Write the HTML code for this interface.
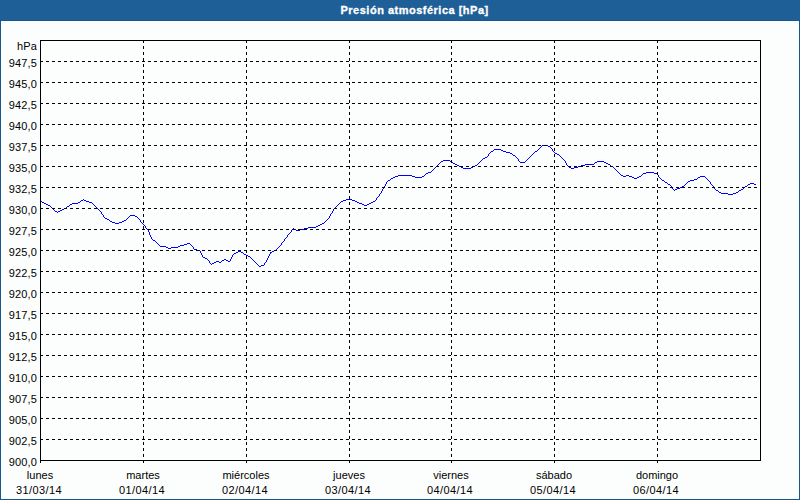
<!DOCTYPE html>
<html><head><meta charset="utf-8">
<style>
html,body{margin:0;padding:0;}
body{width:800px;height:500px;position:relative;overflow:hidden;background:#fcfefd;font-family:"Liberation Sans",sans-serif;font-size:11px;color:#000;}
.frame{position:absolute;left:0;top:0;width:798px;height:499px;border:1px solid #17578f;border-top:none;}
.title{position:absolute;left:0;top:0;width:800px;height:20px;background:#1f5f97;border-bottom:1px solid #17578f;}
.tt{position:absolute;left:340.5px;top:4px;letter-spacing:0.5px;-webkit-text-stroke:0.3px #fff;color:#fff;font-weight:bold;font-size:11px;white-space:nowrap;line-height:13px;}
.yl{position:absolute;left:0;width:37.2px;letter-spacing:0.2px;text-align:right;line-height:13px;white-space:nowrap;}
.dt{letter-spacing:0.4px;}
.xl{position:absolute;width:100px;text-align:center;line-height:13px;white-space:nowrap;}
svg{position:absolute;left:0;top:0;}
</style></head><body>
<div class="frame"></div>
<div class="title"><div class="tt">Presión atmosférica [hPa]</div></div>
<svg width="800" height="500" viewBox="0 0 800 500">
<path d="M542 145h6v1h-6zM541 146h1v1h-1zM548 146h2v1h-2zM540 147h1v1h-1zM550 147h1v1h-1zM539 148h1v1h-1zM551 148h1v1h-1zM494 149h7v1h-7zM538 149h1v1h-1zM552 149h1v1h-1zM493 150h1v1h-1zM501 150h2v1h-2zM537 150h1v1h-1zM552 150h1v1h-1zM491 151h2v1h-2zM503 151h3v1h-3zM535 151h2v1h-2zM553 151h1v1h-1zM490 152h1v1h-1zM506 152h4v1h-4zM534 152h1v1h-1zM554 152h1v1h-1zM489 153h1v1h-1zM510 153h2v1h-2zM533 153h1v1h-1zM555 153h2v1h-2zM488 154h1v1h-1zM512 154h1v1h-1zM532 154h1v1h-1zM557 154h2v1h-2zM488 155h1v1h-1zM513 155h2v1h-2zM531 155h1v1h-1zM559 155h1v1h-1zM487 156h1v1h-1zM515 156h1v1h-1zM530 156h1v1h-1zM560 156h1v1h-1zM485 157h2v1h-2zM516 157h1v1h-1zM529 157h1v1h-1zM561 157h1v1h-1zM483 158h2v1h-2zM517 158h1v1h-1zM528 158h1v1h-1zM562 158h1v1h-1zM482 159h1v1h-1zM518 159h1v1h-1zM527 159h1v1h-1zM563 159h1v1h-1zM443 160h7v1h-7zM481 160h1v1h-1zM518 160h1v1h-1zM526 160h1v1h-1zM564 160h1v1h-1zM441 161h2v1h-2zM450 161h2v1h-2zM480 161h1v1h-1zM519 161h1v1h-1zM525 161h1v1h-1zM565 161h1v1h-1zM597 161h7v1h-7zM440 162h1v1h-1zM452 162h1v1h-1zM479 162h1v1h-1zM520 162h5v1h-5zM565 162h1v1h-1zM595 162h2v1h-2zM604 162h2v1h-2zM439 163h1v1h-1zM453 163h2v1h-2zM478 163h1v1h-1zM566 163h1v1h-1zM594 163h1v1h-1zM606 163h2v1h-2zM438 164h1v1h-1zM455 164h2v1h-2zM477 164h1v1h-1zM566 164h1v1h-1zM585 164h9v1h-9zM608 164h2v1h-2zM437 165h1v1h-1zM457 165h2v1h-2zM475 165h2v1h-2zM567 165h1v1h-1zM581 165h4v1h-4zM610 165h1v1h-1zM436 166h1v1h-1zM459 166h2v1h-2zM473 166h2v1h-2zM568 166h1v1h-1zM578 166h3v1h-3zM611 166h2v1h-2zM435 167h1v1h-1zM461 167h2v1h-2zM471 167h2v1h-2zM569 167h2v1h-2zM574 167h4v1h-4zM613 167h1v1h-1zM434 168h1v1h-1zM463 168h8v1h-8zM571 168h3v1h-3zM614 168h1v1h-1zM433 169h1v1h-1zM615 169h1v1h-1zM432 170h1v1h-1zM616 170h1v1h-1zM431 171h1v1h-1zM617 171h1v1h-1zM428 172h3v1h-3zM618 172h1v1h-1zM646 172h8v1h-8zM426 173h2v1h-2zM619 173h1v1h-1zM643 173h3v1h-3zM654 173h3v1h-3zM425 174h1v1h-1zM620 174h1v1h-1zM642 174h1v1h-1zM657 174h1v1h-1zM398 175h14v1h-14zM424 175h1v1h-1zM621 175h2v1h-2zM626 175h3v1h-3zM641 175h1v1h-1zM658 175h1v1h-1zM395 176h3v1h-3zM412 176h3v1h-3zM422 176h2v1h-2zM623 176h3v1h-3zM629 176h3v1h-3zM639 176h2v1h-2zM658 176h1v1h-1zM700 176h5v1h-5zM393 177h2v1h-2zM415 177h7v1h-7zM632 177h2v1h-2zM637 177h2v1h-2zM659 177h1v1h-1zM698 177h2v1h-2zM705 177h1v1h-1zM391 178h2v1h-2zM634 178h3v1h-3zM660 178h1v1h-1zM697 178h1v1h-1zM706 178h1v1h-1zM390 179h1v1h-1zM661 179h1v1h-1zM694 179h3v1h-3zM707 179h1v1h-1zM388 180h2v1h-2zM662 180h2v1h-2zM690 180h4v1h-4zM708 180h1v1h-1zM387 181h1v1h-1zM664 181h1v1h-1zM688 181h2v1h-2zM709 181h1v1h-1zM386 182h1v1h-1zM665 182h2v1h-2zM687 182h1v1h-1zM710 182h1v1h-1zM386 183h1v1h-1zM667 183h1v1h-1zM686 183h1v1h-1zM710 183h1v1h-1zM750 183h4v1h-4zM385 184h1v1h-1zM668 184h2v1h-2zM685 184h1v1h-1zM711 184h1v1h-1zM748 184h2v1h-2zM754 184h2v1h-2zM385 185h1v1h-1zM670 185h1v1h-1zM684 185h1v1h-1zM712 185h1v1h-1zM747 185h1v1h-1zM384 186h1v1h-1zM671 186h1v1h-1zM682 186h2v1h-2zM713 186h1v1h-1zM745 186h2v1h-2zM384 187h1v1h-1zM672 187h1v1h-1zM680 187h2v1h-2zM713 187h1v1h-1zM744 187h1v1h-1zM383 188h1v1h-1zM672 188h1v1h-1zM677 188h3v1h-3zM714 188h1v1h-1zM743 188h1v1h-1zM382 189h1v1h-1zM673 189h1v1h-1zM675 189h2v1h-2zM715 189h1v1h-1zM741 189h2v1h-2zM382 190h1v1h-1zM674 190h1v1h-1zM716 190h2v1h-2zM739 190h2v1h-2zM381 191h1v1h-1zM718 191h1v1h-1zM738 191h1v1h-1zM381 192h1v1h-1zM719 192h2v1h-2zM736 192h2v1h-2zM380 193h1v1h-1zM721 193h7v1h-7zM733 193h3v1h-3zM379 194h1v1h-1zM728 194h5v1h-5zM379 195h1v1h-1zM378 196h1v1h-1zM377 197h1v1h-1zM376 198h1v1h-1zM83 199h1v1h-1zM346 199h6v1h-6zM376 199h1v1h-1zM81 200h2v1h-2zM84 200h2v1h-2zM343 200h3v1h-3zM352 200h3v1h-3zM375 200h1v1h-1zM40 201h2v1h-2zM80 201h1v1h-1zM86 201h3v1h-3zM341 201h2v1h-2zM355 201h2v1h-2zM373 201h2v1h-2zM42 202h2v1h-2zM78 202h2v1h-2zM89 202h3v1h-3zM340 202h1v1h-1zM357 202h2v1h-2zM371 202h2v1h-2zM44 203h2v1h-2zM72 203h6v1h-6zM92 203h1v1h-1zM339 203h1v1h-1zM359 203h3v1h-3zM369 203h2v1h-2zM46 204h2v1h-2zM70 204h2v1h-2zM93 204h1v1h-1zM338 204h1v1h-1zM362 204h2v1h-2zM367 204h2v1h-2zM48 205h2v1h-2zM69 205h1v1h-1zM94 205h1v1h-1zM337 205h1v1h-1zM364 205h3v1h-3zM50 206h1v1h-1zM67 206h2v1h-2zM95 206h1v1h-1zM336 206h1v1h-1zM51 207h1v1h-1zM66 207h1v1h-1zM96 207h1v1h-1zM335 207h1v1h-1zM52 208h1v1h-1zM64 208h2v1h-2zM97 208h1v1h-1zM334 208h1v1h-1zM53 209h1v1h-1zM62 209h2v1h-2zM98 209h1v1h-1zM333 209h1v1h-1zM54 210h1v1h-1zM60 210h2v1h-2zM99 210h1v1h-1zM333 210h1v1h-1zM55 211h2v1h-2zM58 211h2v1h-2zM100 211h1v1h-1zM332 211h1v1h-1zM57 212h1v1h-1zM101 212h1v1h-1zM332 212h1v1h-1zM101 213h1v1h-1zM331 213h1v1h-1zM102 214h1v1h-1zM330 214h1v1h-1zM103 215h1v1h-1zM130 215h5v1h-5zM330 215h1v1h-1zM103 216h1v1h-1zM129 216h1v1h-1zM135 216h2v1h-2zM329 216h1v1h-1zM104 217h1v1h-1zM128 217h1v1h-1zM137 217h1v1h-1zM329 217h1v1h-1zM105 218h2v1h-2zM127 218h1v1h-1zM138 218h1v1h-1zM328 218h1v1h-1zM107 219h2v1h-2zM126 219h1v1h-1zM139 219h1v1h-1zM327 219h1v1h-1zM109 220h1v1h-1zM124 220h2v1h-2zM140 220h1v1h-1zM326 220h1v1h-1zM110 221h2v1h-2zM122 221h2v1h-2zM140 221h1v1h-1zM325 221h1v1h-1zM112 222h3v1h-3zM119 222h3v1h-3zM141 222h1v1h-1zM324 222h1v1h-1zM115 223h4v1h-4zM142 223h1v1h-1zM322 223h2v1h-2zM143 224h1v1h-1zM320 224h2v1h-2zM144 225h1v1h-1zM318 225h2v1h-2zM145 226h1v1h-1zM316 226h2v1h-2zM145 227h1v1h-1zM308 227h8v1h-8zM146 228h1v1h-1zM293 228h1v1h-1zM304 228h4v1h-4zM147 229h1v1h-1zM292 229h1v1h-1zM294 229h2v1h-2zM300 229h4v1h-4zM148 230h1v1h-1zM291 230h1v1h-1zM296 230h4v1h-4zM148 231h1v1h-1zM291 231h1v1h-1zM149 232h1v1h-1zM290 232h1v1h-1zM149 233h1v1h-1zM289 233h1v1h-1zM149 234h1v1h-1zM288 234h1v1h-1zM150 235h1v1h-1zM287 235h1v1h-1zM150 236h1v1h-1zM287 236h1v1h-1zM151 237h1v1h-1zM286 237h1v1h-1zM151 238h1v1h-1zM285 238h1v1h-1zM152 239h1v1h-1zM284 239h1v1h-1zM153 240h2v1h-2zM284 240h1v1h-1zM155 241h1v1h-1zM283 241h1v1h-1zM156 242h1v1h-1zM282 242h1v1h-1zM157 243h1v1h-1zM187 243h3v1h-3zM281 243h1v1h-1zM158 244h1v1h-1zM184 244h3v1h-3zM190 244h1v1h-1zM281 244h1v1h-1zM159 245h1v1h-1zM180 245h4v1h-4zM191 245h1v1h-1zM280 245h1v1h-1zM160 246h6v1h-6zM178 246h2v1h-2zM192 246h1v1h-1zM279 246h1v1h-1zM166 247h2v1h-2zM171 247h7v1h-7zM193 247h1v1h-1zM278 247h1v1h-1zM168 248h3v1h-3zM193 248h1v1h-1zM277 248h1v1h-1zM194 249h3v1h-3zM276 249h1v1h-1zM197 250h3v1h-3zM274 250h2v1h-2zM200 251h1v1h-1zM238 251h3v1h-3zM272 251h2v1h-2zM200 252h1v1h-1zM236 252h2v1h-2zM241 252h2v1h-2zM270 252h2v1h-2zM201 253h1v1h-1zM234 253h2v1h-2zM243 253h1v1h-1zM270 253h1v1h-1zM201 254h1v1h-1zM233 254h1v1h-1zM244 254h2v1h-2zM269 254h1v1h-1zM202 255h1v1h-1zM232 255h1v1h-1zM246 255h2v1h-2zM269 255h1v1h-1zM202 256h1v1h-1zM232 256h1v1h-1zM248 256h2v1h-2zM268 256h1v1h-1zM203 257h2v1h-2zM231 257h1v1h-1zM250 257h1v1h-1zM268 257h1v1h-1zM205 258h2v1h-2zM231 258h1v1h-1zM251 258h1v1h-1zM267 258h1v1h-1zM207 259h1v1h-1zM224 259h2v1h-2zM230 259h1v1h-1zM252 259h1v1h-1zM267 259h1v1h-1zM208 260h1v1h-1zM222 260h2v1h-2zM226 260h2v1h-2zM230 260h1v1h-1zM253 260h1v1h-1zM266 260h1v1h-1zM209 261h1v1h-1zM216 261h3v1h-3zM221 261h1v1h-1zM228 261h2v1h-2zM254 261h1v1h-1zM266 261h1v1h-1zM209 262h1v1h-1zM214 262h2v1h-2zM219 262h2v1h-2zM255 262h1v1h-1zM265 262h1v1h-1zM210 263h1v1h-1zM212 263h2v1h-2zM256 263h1v1h-1zM264 263h1v1h-1zM211 264h1v1h-1zM257 264h1v1h-1zM264 264h1v1h-1zM258 265h1v1h-1zM261 265h3v1h-3zM259 266h2v1h-2z" fill="#0000ff" shape-rendering="crispEdges"/>
<g stroke="#000" stroke-width="1" stroke-dasharray="3 3" fill="none" shape-rendering="crispEdges">
<path d="M40 439.5 H760" />
<path d="M40 418.5 H760" />
<path d="M40 397.5 H760" />
<path d="M40 376.5 H760" />
<path d="M40 355.5 H760" />
<path d="M40 334.5 H760" />
<path d="M40 313.5 H760" />
<path d="M40 292.5 H760" />
<path d="M40 271.5 H760" />
<path d="M40 250.5 H760" />
<path d="M40 229.5 H760" />
<path d="M40 208.5 H760" />
<path d="M40 187.5 H760" />
<path d="M40 166.5 H760" />
<path d="M40 145.5 H760" />
<path d="M40 124.5 H760" />
<path d="M40 103.5 H760" />
<path d="M40 82.5 H760" />
<path d="M40 61.5 H760" />
<path d="M143.5 40 V463" />
<path d="M246.5 40 V463" />
<path d="M349.5 40 V463" />
<path d="M451.5 40 V463" />
<path d="M554.5 40 V463" />
<path d="M657.5 40 V463" />
</g>
<path d="M40.5 460 V463" stroke="#000" stroke-width="1" shape-rendering="crispEdges"/>
<rect x="40.5" y="40.5" width="720" height="420" fill="none" stroke="#000" stroke-width="1" shape-rendering="crispEdges"/>
</svg>
<div class="yl" style="top:40px">hPa</div>
<div class="yl" style="top:456px">900,0</div>
<div class="yl" style="top:435px">902,5</div>
<div class="yl" style="top:414px">905,0</div>
<div class="yl" style="top:393px">907,5</div>
<div class="yl" style="top:372px">910,0</div>
<div class="yl" style="top:351px">912,5</div>
<div class="yl" style="top:330px">915,0</div>
<div class="yl" style="top:309px">917,5</div>
<div class="yl" style="top:288px">920,0</div>
<div class="yl" style="top:267px">922,5</div>
<div class="yl" style="top:246px">925,0</div>
<div class="yl" style="top:225px">927,5</div>
<div class="yl" style="top:204px">930,0</div>
<div class="yl" style="top:183px">932,5</div>
<div class="yl" style="top:162px">935,0</div>
<div class="yl" style="top:141px">937,5</div>
<div class="yl" style="top:120px">940,0</div>
<div class="yl" style="top:99px">942,5</div>
<div class="yl" style="top:78px">945,0</div>
<div class="yl" style="top:57px">947,5</div>
<div class="xl" style="left:-10px;top:469px">lunes</div>
<div class="xl dt" style="left:-11px;top:484px">31/03/14</div>
<div class="xl" style="left:93px;top:469px">martes</div>
<div class="xl dt" style="left:92px;top:484px">01/04/14</div>
<div class="xl" style="left:196px;top:469px">miércoles</div>
<div class="xl dt" style="left:195px;top:484px">02/04/14</div>
<div class="xl" style="left:299px;top:469px">jueves</div>
<div class="xl dt" style="left:298px;top:484px">03/04/14</div>
<div class="xl" style="left:401px;top:469px">viernes</div>
<div class="xl dt" style="left:400px;top:484px">04/04/14</div>
<div class="xl" style="left:504px;top:469px">sábado</div>
<div class="xl dt" style="left:503px;top:484px">05/04/14</div>
<div class="xl" style="left:607px;top:469px">domingo</div>
<div class="xl dt" style="left:606px;top:484px">06/04/14</div>
</body></html>
